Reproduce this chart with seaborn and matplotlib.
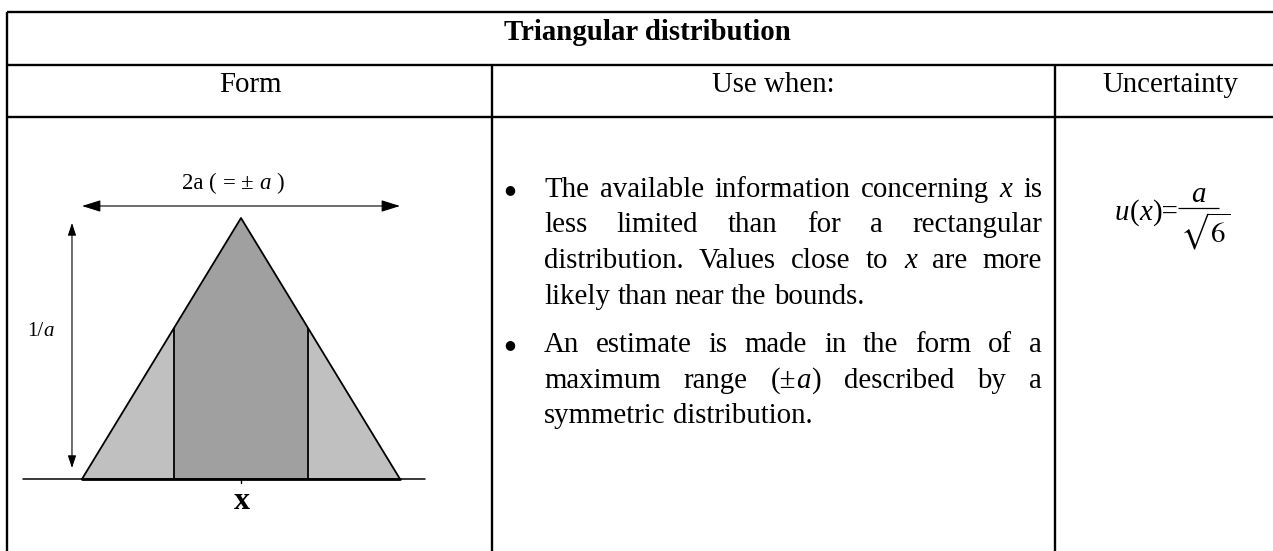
import numpy as np
import matplotlib
matplotlib.use("Agg")
import matplotlib.pyplot as plt
import seaborn as sns

# ---------------- data ----------------
title = "Triangular distribution"
headers = ["Form", "Use when:", "Uncertainty"]
tri_x = [-1.0, 0.0, 1.0]      # position in units of a  (x - a, x, x + a)
tri_y = [0.0, 1.0, 0.0]       # probability density in units of 1/a
inner_x = [-0.42, 0.42]       # central band (± u)
width_label = "2a ( = ± *a* )"
height_label = "1/*a*"
centre_label = "x"
bullet_1 = ["The available information concerning *x* is",
            "less limited than for a rectangular",
            "distribution. Values close to *x* are more",
            "likely than near the bounds."]
bullet_2 = ["An estimate is made in the form of a",
            "maximum range (±*a*) described by a",
            "symmetric distribution."]
formula_lhs = "*u*(*x*)="
formula_num = "a"
formula_den = r"$\sqrt{6}$"

# ---------------- style ----------------
sns.set_theme(style="white")
plt.rcParams['font.family'] = ['Liberation Serif', 'DejaVu Serif']
plt.rcParams['text.color'] = 'black'

W, H = 1273, 551
fig = plt.figure(figsize=(W / 100, H / 100), dpi=100)
ax = fig.add_axes([0, 0, 1, 1])
ax.set_xlim(0, W)
ax.set_ylim(H, 0)
ax.axis('off')
renderer = fig.canvas.get_renderer()

FS = 20.8
LW = 1.7

# table grid
for y in (12, 65, 117):
    ax.plot([7, W], [y, y], color='black', lw=LW, solid_capstyle='butt')
ax.plot([7, 7], [12, H], color='black', lw=LW, solid_capstyle='butt')
for x in (492, 1055):
    ax.plot([x, x], [65, H], color='black', lw=LW, solid_capstyle='butt')

ax.text(647, 40, title, fontsize=FS, fontweight='bold', ha='center', va='baseline')
for cx, h in zip((250, 773.5, 1170), headers):
    ax.text(cx, 92, h, fontsize=FS, ha='center', va='baseline')


def parse(word):
    parts = word.split('*')
    return [(p, 'italic' if i % 2 else 'normal') for i, p in enumerate(parts) if p]


def seg_width(segs, fs, weight='normal'):
    w = 0.0
    for txt, st in segs:
        t = ax.text(0, 0, txt, fontsize=fs, style=st, fontweight=weight)
        w += t.get_window_extent(renderer).width
        t.remove()
    return w


def draw_segs(x, y, segs, fs, weight='normal'):
    for txt, st in segs:
        t = ax.text(x, y, txt, fontsize=fs, style=st, fontweight=weight,
                    ha='left', va='baseline')
        x += t.get_window_extent(renderer).width
    return x


def space_width(fs):
    return seg_width([("n n", 'normal')], fs) - seg_width([("nn", 'normal')], fs)


def draw_line(line, x0, y, fs, right=None, ha='left'):
    words = [parse(w) for w in line.split(' ')]
    widths = [seg_width(w, fs) for w in words]
    if right is not None and len(words) > 1:
        gap = (right - x0 - sum(widths)) / (len(words) - 1)
    else:
        gap = space_width(fs)
    total = sum(widths) + gap * (len(words) - 1)
    x = x0 - total / 2 if ha == 'center' else x0
    for w, wd in zip(words, widths):
        draw_segs(x, y, w, fs)
        x += wd + gap


TX0, TX1 = 544, 1042
PITCH = 35.5
for para, y0 in ((bullet_1, 197), (bullet_2, 352)):
    ax.text(510, y0 - 7, "●", fontsize=9, ha='center', va='center',
            family=['DejaVu Sans'])
    for i, line in enumerate(para):
        last = i == len(para) - 1
        draw_line(line, TX0, y0 + i * PITCH, FS, right=None if last else TX1)

# uncertainty formula  u(x) = a / sqrt(6)
xe = draw_segs(1115, 220, parse(formula_lhs), FS)
bar_l, bar_r = xe, xe + 41
ax.plot([bar_l, bar_r], [208, 208], color='black', lw=0.9, solid_capstyle='butt')
ax.text((bar_l + bar_r) / 2, 202, formula_num, fontsize=FS, style='italic',
        ha='center', va='baseline')
ax.text(bar_l + 2, 242, formula_den, fontsize=FS, math_fontfamily='stix',
        ha='left', va='baseline')

# ---------------- diagram ----------------
CX, SX = 241, 159     # px of x, px per a
BY, SY = 479, 261     # px of baseline, px per 1/a
L, R, T, B = 10, 480, 170, 530
dax = fig.add_axes([L / W, (H - B) / H, (R - L) / W, (B - T) / H])
dax.set_xlim((L - CX) / SX, (R - CX) / SX)
dax.set_ylim((BY - B) / SY, (BY - T) / SY)
dax.axis('off')
dax.patch.set_alpha(0)

h_in = np.interp(inner_x, tri_x, tri_y)
dax.fill(tri_x, tri_y, color='#c0c0c0', lw=0, zorder=1)
dax.fill([inner_x[0], inner_x[0], tri_x[1], inner_x[1], inner_x[1]],
         [0, h_in[0], tri_y[1], h_in[1], 0], color='#a0a0a0', lw=0, zorder=1)
sns.lineplot(x=tri_x, y=tri_y, sort=False, estimator=None, color='black',
             lw=1.3, ax=dax, zorder=3)
dax.vlines(inner_x, 0, h_in, color='black', lw=1.3, zorder=3)
dax.plot([-1.37, 1.16], [0, 0], color='black', lw=1.1, zorder=3)
dax.plot([tri_x[0], tri_x[-1]], [0, 0], color='black', lw=2.0, zorder=3)
dax.plot([tri_x[1], tri_x[1]], [0, -0.015], color='black', lw=1.0, zorder=3)

dax.annotate('', xy=(tri_x[-1], 1.046), xytext=(tri_x[0], 1.046),
             arrowprops=dict(arrowstyle='<|-|>,head_length=1.15,head_width=0.36',
                             mutation_scale=10, shrinkA=0, shrinkB=0, lw=0.8,
                             color='black'))
dax.annotate('', xy=(-1.063, 0.981), xytext=(-1.063, 0.042),
             arrowprops=dict(arrowstyle='<|-|>,head_length=0.75,head_width=0.25',
                             mutation_scale=10, shrinkA=0, shrinkB=0, lw=0.8,
                             color='black'))

draw_line(width_label, 233, 189, 16.5, ha='center')
draw_line(height_label, 27, 336, 15)
ax.text(242, 509, centre_label, fontsize=23, fontweight='bold', ha='center', va='baseline')

fig.savefig('out.png', dpi=100)
